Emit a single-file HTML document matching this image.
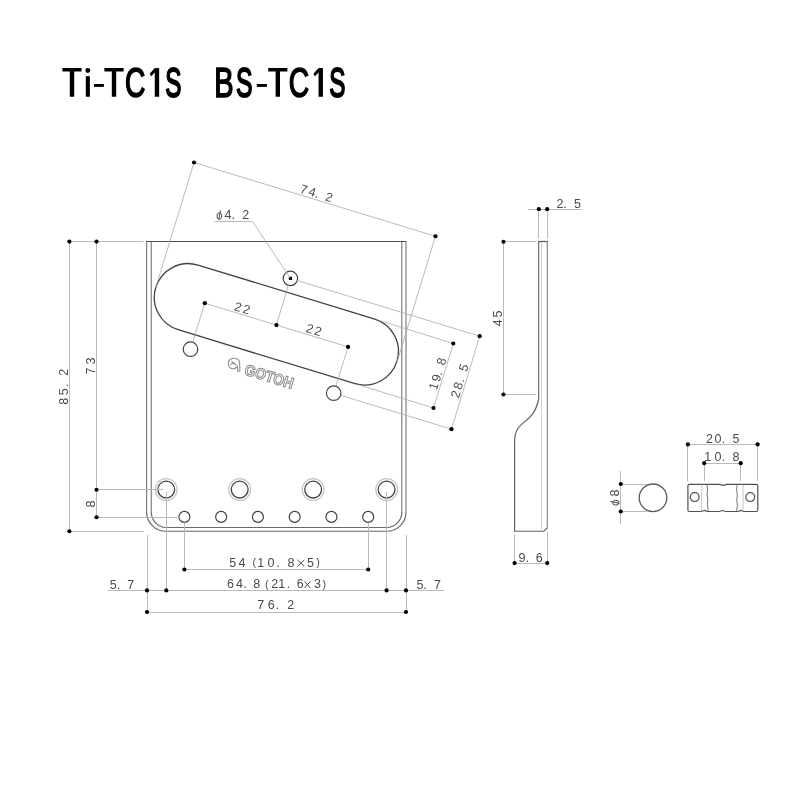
<!DOCTYPE html>
<html><head><meta charset="utf-8"><style>
html,body{margin:0;padding:0;background:#fff;width:800px;height:800px;overflow:hidden}
svg{display:block;font-family:"Liberation Sans",sans-serif;will-change:transform}
</style></head><body>
<svg width="800" height="800" viewBox="0 0 800 800">
<rect width="800" height="800" fill="#fff"/>
<path d="M146.6,241.5 V511.95" fill="none" stroke="#808080" stroke-width="1.2"/>
<path d="M406,241.5 V511.95" fill="none" stroke="#808080" stroke-width="1.2"/>
<path d="M406,511.95 A19.3,19.3 0 0 1 386.7,531.25 H165.9 A19.3,19.3 0 0 1 146.6,511.95" fill="none" stroke="#6a6a6a" stroke-width="1.2"/>
<path d="M151.3,241.5 V512" fill="none" stroke="#808080" stroke-width="1.2"/>
<path d="M401.8,241.5 V512" fill="none" stroke="#808080" stroke-width="1.2"/>
<path d="M151.3,512 A15.2,15.2 0 0 0 166.2,527.5 H386.9 A15.2,15.2 0 0 0 401.8,512" fill="none" stroke="#6a6a6a" stroke-width="1.2"/>
<path d="M146,241.5 H406.6" fill="none" stroke="#505050" stroke-width="1.2"/>
<path d="M197.97,265.07 L374.81,319.07 A33.8,33.8 0 0 1 355.07,383.72 L178.23,329.73 A33.8,33.8 0 0 1 197.97,265.07 Z" fill="none" stroke="#424242" stroke-width="1.3"/>
<circle cx="290.4" cy="278.4" r="7.2" fill="none" stroke="#424242" stroke-width="1.2"/>
<circle cx="190.5" cy="349.2" r="7.25" fill="none" stroke="#424242" stroke-width="1.2"/>
<circle cx="333.7" cy="393.2" r="7.25" fill="none" stroke="#424242" stroke-width="1.2"/>
<rect x="288.8" y="276.8" width="3.2" height="3.2" fill="#000"/>
<circle cx="166.25" cy="489.6" r="10.9" fill="none" stroke="#c4c4c4" stroke-width="1.2"/>
<circle cx="166.25" cy="489.6" r="8.4" fill="none" stroke="#424242" stroke-width="1.3"/>
<circle cx="239.7" cy="489.6" r="10.9" fill="none" stroke="#c4c4c4" stroke-width="1.2"/>
<circle cx="239.7" cy="489.6" r="8.4" fill="none" stroke="#424242" stroke-width="1.3"/>
<circle cx="313.15" cy="489.6" r="10.9" fill="none" stroke="#c4c4c4" stroke-width="1.2"/>
<circle cx="313.15" cy="489.6" r="8.4" fill="none" stroke="#424242" stroke-width="1.3"/>
<circle cx="386.6" cy="489.6" r="10.9" fill="none" stroke="#c4c4c4" stroke-width="1.2"/>
<circle cx="386.6" cy="489.6" r="8.4" fill="none" stroke="#424242" stroke-width="1.3"/>
<circle cx="184.4" cy="516.9" r="5.5" fill="none" stroke="#424242" stroke-width="1.2"/>
<circle cx="221.16" cy="516.9" r="5.5" fill="none" stroke="#424242" stroke-width="1.2"/>
<circle cx="257.92" cy="516.9" r="5.5" fill="none" stroke="#424242" stroke-width="1.2"/>
<circle cx="294.68" cy="516.9" r="5.5" fill="none" stroke="#424242" stroke-width="1.2"/>
<circle cx="331.44" cy="516.9" r="5.5" fill="none" stroke="#424242" stroke-width="1.2"/>
<circle cx="368.2" cy="516.9" r="5.5" fill="none" stroke="#424242" stroke-width="1.2"/>
<line x1="194" y1="162.5" x2="435.49" y2="236.24" stroke="#a8a8a8" stroke-width="0.8"/>
<line x1="194" y1="162.5" x2="155.77" y2="287.53" stroke="#a8a8a8" stroke-width="0.8"/>
<line x1="435.49" y1="236.24" x2="397.27" y2="361.27" stroke="#a8a8a8" stroke-width="0.8"/>
<circle cx="194" cy="162.5" r="2.1" fill="#000"/>
<circle cx="435.49" cy="236.24" r="2.1" fill="#000"/>
<g transform="translate(194,162.5) rotate(16.98)"><text x="109.36 118.21 125.51 135.78" y="-2" font-size="12.5" fill="#4a4a4a">74.2</text></g>
<line x1="214.4" y1="221.5" x2="252.5" y2="221.5" stroke="#bababa" stroke-width="1.0"/>
<line x1="252.5" y1="221.5" x2="290.4" y2="278.4" stroke="#a8a8a8" stroke-width="0.8"/>
<g transform="translate(0,0) rotate(0)"><text x="224.61 231.56 242.18" y="219.3" font-size="12.5" fill="#4a4a4a">4.2</text><ellipse cx="219.3" cy="216.1" rx="2.35" ry="3.2" fill="none" stroke="#4a4a4a" stroke-width="1"/><line x1="220.5" y1="210.5" x2="218.7" y2="219.6" stroke="#4a4a4a" stroke-width="1"/></g>
<line x1="204.8" y1="303.2" x2="348.07" y2="346.95" stroke="#a8a8a8" stroke-width="0.8"/>
<line x1="204.8" y1="303.2" x2="192.62" y2="342.27" stroke="#a8a8a8" stroke-width="0.8"/>
<line x1="276.43" y1="325.07" x2="288.3" y2="285.29" stroke="#a8a8a8" stroke-width="0.8"/>
<line x1="348.07" y1="346.95" x2="335.82" y2="386.27" stroke="#a8a8a8" stroke-width="0.8"/>
<circle cx="204.8" cy="303.2" r="2.1" fill="#000"/>
<circle cx="276.43" cy="325.07" r="2.1" fill="#000"/>
<circle cx="348.07" cy="346.95" r="2.1" fill="#000"/>
<g transform="translate(204.8,303.2) rotate(16.98)"><text x="29.48 38.27" y="-2" font-size="12.5" fill="#4a4a4a">22</text></g>
<g transform="translate(276.43,325.07) rotate(16.98)"><text x="29.48 38.27" y="-2" font-size="12.5" fill="#4a4a4a">22</text></g>
<line x1="453.3" y1="343.5" x2="433.5" y2="408" stroke="#a8a8a8" stroke-width="0.8"/>
<line x1="378.64" y1="320.24" x2="453.3" y2="343.5" stroke="#a8a8a8" stroke-width="0.8"/>
<line x1="358.89" y1="384.89" x2="433.5" y2="408" stroke="#a8a8a8" stroke-width="0.8"/>
<circle cx="453.3" cy="343.5" r="2.1" fill="#000"/>
<circle cx="433.5" cy="408" r="2.1" fill="#000"/>
<g transform="translate(433.5,408) rotate(-73.02)"><text x="17.4 26.06 33.21 43.31" y="-1.8" font-size="12.5" fill="#4a4a4a">19.8</text></g>
<line x1="479.7" y1="336.2" x2="451.5" y2="429.2" stroke="#a8a8a8" stroke-width="0.8"/>
<line x1="297.29" y1="280.5" x2="479.7" y2="336.2" stroke="#a8a8a8" stroke-width="0.8"/>
<line x1="340.63" y1="395.32" x2="451.5" y2="429.2" stroke="#a8a8a8" stroke-width="0.8"/>
<circle cx="479.7" cy="336.2" r="2.1" fill="#000"/>
<circle cx="451.5" cy="429.2" r="2.1" fill="#000"/>
<g transform="translate(451.5,429.2) rotate(-73.02)"><text x="31.15 40.24 48.04 58.98" y="-2" font-size="12.5" fill="#4a4a4a">28.5</text></g>
<line x1="69.5" y1="241.6" x2="69.5" y2="531.25" stroke="#bababa" stroke-width="1.0"/>
<line x1="96.5" y1="241.6" x2="96.5" y2="517.25" stroke="#bababa" stroke-width="1.0"/>
<line x1="69.4" y1="241.5" x2="143.5" y2="241.5" stroke="#bababa" stroke-width="1.0"/>
<line x1="96.5" y1="489.5" x2="163.5" y2="489.5" stroke="#bababa" stroke-width="1.0"/>
<line x1="96.5" y1="517.5" x2="178.5" y2="517.5" stroke="#bababa" stroke-width="1.0"/>
<line x1="69.4" y1="531.5" x2="144" y2="531.5" stroke="#bababa" stroke-width="1.0"/>
<circle cx="69.4" cy="241.6" r="2.1" fill="#000"/>
<circle cx="96.5" cy="241.6" r="2.1" fill="#000"/>
<circle cx="69.4" cy="531.25" r="2.1" fill="#000"/>
<circle cx="96.5" cy="489.75" r="2.1" fill="#000"/>
<circle cx="96.5" cy="517.25" r="2.1" fill="#000"/>
<g transform="translate(0,404.2) rotate(-90)"><text x="-0.54 9.05 17.16 28.57" y="67.5" font-size="12.5" fill="#4a4a4a">85.2</text></g>
<g transform="translate(0,373.9) rotate(-90)"><text x="-0.64 9.33" y="94.7" font-size="12.5" fill="#4a4a4a">73</text></g>
<g transform="translate(0,507) rotate(-90)"><text x="-0.54" y="94.7" font-size="12.5" fill="#4a4a4a">8</text></g>
<line x1="184.5" y1="522.6" x2="184.5" y2="569.5" stroke="#bababa" stroke-width="1.0"/>
<line x1="368.5" y1="522.6" x2="368.5" y2="569.5" stroke="#bababa" stroke-width="1.0"/>
<line x1="166.5" y1="492" x2="166.5" y2="590.4" stroke="#bababa" stroke-width="1.0"/>
<line x1="386.5" y1="492" x2="386.5" y2="590.4" stroke="#bababa" stroke-width="1.0"/>
<line x1="147.5" y1="535" x2="147.5" y2="612" stroke="#bababa" stroke-width="1.0"/>
<line x1="406.5" y1="535" x2="406.5" y2="612" stroke="#bababa" stroke-width="1.0"/>
<line x1="184.4" y1="569.5" x2="368.2" y2="569.5" stroke="#bababa" stroke-width="1.0"/>
<line x1="108" y1="590.5" x2="444" y2="590.5" stroke="#bababa" stroke-width="1.0"/>
<line x1="147" y1="612.5" x2="406" y2="612.5" stroke="#bababa" stroke-width="1.0"/>
<circle cx="184.4" cy="569.5" r="2.1" fill="#000"/>
<circle cx="368.2" cy="569.5" r="2.1" fill="#000"/>
<circle cx="147" cy="590.4" r="2.1" fill="#000"/>
<circle cx="166.3" cy="590.4" r="2.1" fill="#000"/>
<circle cx="386.6" cy="590.4" r="2.1" fill="#000"/>
<circle cx="406" cy="590.4" r="2.1" fill="#000"/>
<circle cx="147" cy="612" r="2.1" fill="#000"/>
<circle cx="406" cy="612" r="2.1" fill="#000"/>
<g transform="translate(0,0) rotate(0)"><text x="229.25 238.51 257.15 267.61 276.36 287.56 307" y="566.8" font-size="12.5" fill="#4a4a4a">5410.85</text></g>
<g transform="translate(0,0) rotate(0)"><text x="226.96 236.01 243.16 253.21 271.27 278.35 286.86 296.86 313.92" y="588.4" font-size="12.5" fill="#4a4a4a">64.821.63</text></g>
<text x="252.53" y="566" font-size="10.8" fill="#4a4a4a">(</text>
<text x="316.19" y="566" font-size="10.8" fill="#4a4a4a">)</text>
<path d="M297.5,559.9 L304.3,566.5 M304.3,559.9 L297.5,566.5" stroke="#4a4a4a" stroke-width="1.0" fill="none"/>
<text x="265.03" y="587.5" font-size="10.8" fill="#4a4a4a">(</text>
<text x="322.54" y="587.5" font-size="10.8" fill="#4a4a4a">)</text>
<path d="M304.5,581.4 L310.4,588 M310.4,581.4 L304.5,588" stroke="#4a4a4a" stroke-width="1.0" fill="none"/>
<g transform="translate(0,0) rotate(0)"><text x="109.8 116.66 127.16" y="588.6" font-size="12.5" fill="#4a4a4a">5.7</text></g>
<g transform="translate(0,0) rotate(0)"><text x="416.5 423.26 433.96" y="588.5" font-size="12.5" fill="#4a4a4a">5.7</text></g>
<g transform="translate(0,0) rotate(0)"><text x="257.26 267.76 275.76 287.18" y="609.3" font-size="12.5" fill="#4a4a4a">76.2</text></g>
<path d="M538.7,399 C532.7,427 514.6,418 514.6,442 V531.25 H543.75 L547.3,528" fill="none" stroke="#626262" stroke-width="1.2"/>
<path d="M538.7,399 V241.5" fill="none" stroke="#6e6e6e" stroke-width="1.2"/>
<path d="M538.1,241.5 H547.9" fill="none" stroke="#555" stroke-width="1.2"/>
<path d="M547.3,241.5 V528" fill="none" stroke="#8a8a8a" stroke-width="1.2"/>
<line x1="541.5" y1="242" x2="541.5" y2="531" stroke="#d0d0d0" stroke-width="1.0"/>
<line x1="528" y1="209.5" x2="582" y2="209.5" stroke="#bababa" stroke-width="1.0"/>
<line x1="538.5" y1="212" x2="538.5" y2="238.5" stroke="#bababa" stroke-width="1.0"/>
<line x1="547.5" y1="212" x2="547.5" y2="238.5" stroke="#bababa" stroke-width="1.0"/>
<circle cx="538.8" cy="209.2" r="2.1" fill="#000"/>
<circle cx="547.2" cy="209.2" r="2.1" fill="#000"/>
<g transform="translate(0,0) rotate(0)"><text x="556.38 563.26 573.9" y="207.9" font-size="12.5" fill="#4a4a4a">2.5</text></g>
<line x1="503.5" y1="241.75" x2="503.5" y2="394.5" stroke="#bababa" stroke-width="1.0"/>
<line x1="503.5" y1="241.5" x2="536" y2="241.5" stroke="#bababa" stroke-width="1.0"/>
<line x1="503.5" y1="394.5" x2="536" y2="394.5" stroke="#bababa" stroke-width="1.0"/>
<circle cx="503.5" cy="241.75" r="2.1" fill="#000"/>
<circle cx="503.5" cy="394.5" r="2.1" fill="#000"/>
<g transform="translate(0,326) rotate(-90)"><text x="-0.29 8.6" y="502.4" font-size="12.5" fill="#4a4a4a">45</text></g>
<line x1="514.5" y1="534.5" x2="514.5" y2="563.1" stroke="#bababa" stroke-width="1.0"/>
<line x1="547.5" y1="531.5" x2="547.5" y2="563.1" stroke="#bababa" stroke-width="1.0"/>
<line x1="514.6" y1="563.5" x2="547.25" y2="563.5" stroke="#bababa" stroke-width="1.0"/>
<circle cx="514.6" cy="563.1" r="2.1" fill="#000"/>
<circle cx="547.25" cy="563.1" r="2.1" fill="#000"/>
<g transform="translate(0,0) rotate(0)"><text x="518.51 525.66 535.86" y="561.8" font-size="12.5" fill="#4a4a4a">9.6</text></g>
<circle cx="653" cy="497.8" r="13.8" fill="none" stroke="#5e5e5e" stroke-width="1.3"/>
<line x1="620.5" y1="471" x2="620.5" y2="524" stroke="#bababa" stroke-width="1.0"/>
<line x1="620.8" y1="484.5" x2="647" y2="484.5" stroke="#bababa" stroke-width="1.0"/>
<line x1="620.8" y1="511.5" x2="647" y2="511.5" stroke="#bababa" stroke-width="1.0"/>
<circle cx="620.8" cy="484" r="2.1" fill="#000"/>
<circle cx="620.8" cy="511.5" r="2.1" fill="#000"/>
<g transform="translate(0,505.2) rotate(-90)"><text x="8.66" y="619" font-size="12.5" fill="#4a4a4a">8</text><ellipse cx="2.5" cy="615.8" rx="2.35" ry="3.2" fill="none" stroke="#4a4a4a" stroke-width="1"/><line x1="3.7" y1="610.2" x2="1.9" y2="619.3" stroke="#4a4a4a" stroke-width="1"/></g>
<path d="M689.4,484.4 H719.2 L723,485.4 L726.8,484.4 H756.3 Q757.8,484.4 757.8,485.9 V510 Q757.8,511.5 756.3,511.5 H744 L741,510.5 L738,511.5 H726 L722.4,510.5 L719,511.5 H707.5 L704.3,510.5 L701,511.5 H689.4 Q687.9,511.5 687.9,510 V485.9 Q687.9,484.4 689.4,484.4 Z" fill="none" stroke="#505050" stroke-width="1.2"/>
<circle cx="694.7" cy="497.1" r="4.4" fill="none" stroke="#4e4e4e" stroke-width="1.2"/>
<circle cx="750.3" cy="497.1" r="4.4" fill="none" stroke="#4e4e4e" stroke-width="1.2"/>
<path d="M701.5,484.6 C702.5,492 700.8,500 701.6,511.3" fill="none" stroke="#bdbdbd" stroke-width="0.9"/>
<path d="M707,484.6 L707.6,490 L707,494 L707.8,500 L707.4,505 L708.4,511.3" fill="none" stroke="#7a7a7a" stroke-width="1.0"/>
<path d="M737.2,484.6 L736.6,490 L737.3,495 L736.7,500 L737.4,505 L736.6,511.3" fill="none" stroke="#7a7a7a" stroke-width="1.0"/>
<path d="M743.2,484.6 C742.3,492 744,502 742.8,511.3" fill="none" stroke="#bdbdbd" stroke-width="0.9"/>
<line x1="687.9" y1="444.5" x2="757.6" y2="444.5" stroke="#bababa" stroke-width="1.0"/>
<line x1="687.5" y1="444.4" x2="687.5" y2="481" stroke="#bababa" stroke-width="1.0"/>
<line x1="757.5" y1="444.4" x2="757.5" y2="481" stroke="#bababa" stroke-width="1.0"/>
<line x1="704.2" y1="463.5" x2="740.75" y2="463.5" stroke="#bababa" stroke-width="1.0"/>
<line x1="704.5" y1="463.2" x2="704.5" y2="481" stroke="#bababa" stroke-width="1.0"/>
<line x1="740.5" y1="463.2" x2="740.5" y2="481" stroke="#bababa" stroke-width="1.0"/>
<circle cx="687.9" cy="444.4" r="2.1" fill="#000"/>
<circle cx="757.6" cy="444.4" r="2.1" fill="#000"/>
<circle cx="704.2" cy="463.2" r="2.1" fill="#000"/>
<circle cx="740.75" cy="463.2" r="2.1" fill="#000"/>
<g transform="translate(0,0) rotate(0)"><text x="705.88 714.51 721.76 732.5" y="442.8" font-size="12.5" fill="#4a4a4a">20.5</text></g>
<g transform="translate(0,0) rotate(0)"><text x="704.25 714.61 721.76 732.46" y="461" font-size="12.5" fill="#4a4a4a">10.8</text></g>
<g transform="translate(243.6,374.2) rotate(16.98)"><text x="0" y="0" font-size="15.5" font-weight="bold" fill="#fff" stroke="#8c8c8c" stroke-width="1.1" textLength="50.5" lengthAdjust="spacingAndGlyphs">GOTOH</text></g>
<path d="M239,360.3 C236.5,357.6 230.5,357.4 228.7,361.2 C227.4,364.6 229.3,368.6 233,368.7 C235,368.7 236.4,367.8 237.2,366.3 L237.9,371.4 L239.9,371 L239.6,362.6 Z M231.4,361.3 L236.2,365.2 M230.3,364.6 L234.6,362.8" fill="none" stroke="#8e8e8e" stroke-width="1.1"/>
<path d="M62.4,68.05 H81.6 V71.6 H74.2 V96.75 H69.8 V71.6 H62.4 Z" fill="#000"/>
<rect x="85.8" y="76.2" width="4.1" height="20.55" fill="#000"/><circle cx="87.8" cy="70.5" r="2.45" fill="#000"/>
<rect x="94" y="84.0" width="9.9" height="2.9" fill="#000"/>
<path d="M104.4,68.05 H123.6 V71.6 H116.2 V96.75 H111.8 V71.6 H104.4 Z" fill="#000"/>
<text transform="translate(125.04,96.75) scale(0.676,1)" font-size="41.7" fill="#000" stroke="#000" stroke-width="1.7">C</text>
<path d="M154.75,68.1 h4.4 v28.65 h-4.4 Z" fill="#000"/>
<path d="M149.8,73.4 L154.9,68.1 L155.5,71.8 L151,76.5 Z" fill="#000"/>
<text transform="translate(165.36,96.75) scale(0.582,1)" font-size="41.7" fill="#000" stroke="#000" stroke-width="1.98">S</text>
<text transform="translate(214.29,96.75) scale(0.696,1)" font-size="41.7" fill="#000" stroke="#000" stroke-width="1.65">B</text>
<text transform="translate(236.03,96.75) scale(0.594,1)" font-size="41.7" fill="#000" stroke="#000" stroke-width="1.94">S</text>
<rect x="256.8" y="84.0" width="10.1" height="2.9" fill="#000"/>
<path d="M268.2,68.05 H287.4 V71.6 H280 V96.75 H275.6 V71.6 H268.2 Z" fill="#000"/>
<text transform="translate(288.84,96.75) scale(0.676,1)" font-size="41.7" fill="#000" stroke="#000" stroke-width="1.7">C</text>
<path d="M318.55,68.1 h4.4 v28.65 h-4.4 Z" fill="#000"/>
<path d="M313.6,73.4 L318.7,68.1 L319.3,71.8 L314.8,76.5 Z" fill="#000"/>
<text transform="translate(329.16,96.75) scale(0.582,1)" font-size="41.7" fill="#000" stroke="#000" stroke-width="1.98">S</text>
</svg></body></html>
